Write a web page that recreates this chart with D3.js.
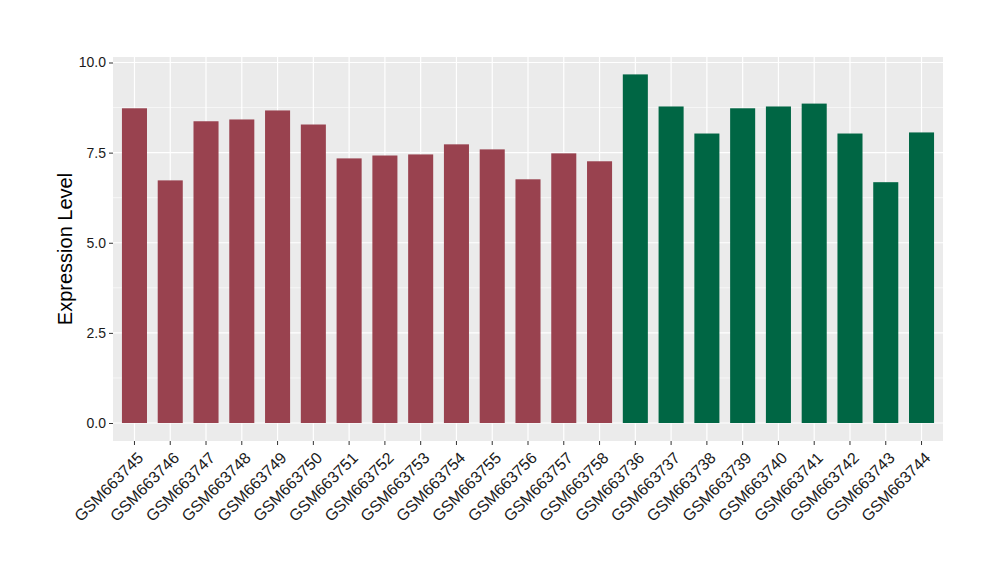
<!DOCTYPE html>
<html><head><meta charset="utf-8">
<script src="https://cdn.jsdelivr.net/npm/d3@7"></script>
<style>body{margin:0;background:#fff}svg{display:block}</style>
</head><body>
<svg id="c" width="1000" height="580"></svg>
<script>
const categories = ["GSM663745","GSM663746","GSM663747","GSM663748","GSM663749","GSM663750","GSM663751","GSM663752","GSM663753","GSM663754","GSM663755","GSM663756","GSM663757","GSM663758","GSM663736","GSM663737","GSM663738","GSM663739","GSM663740","GSM663741","GSM663742","GSM663743","GSM663744"];
const values = [8.73,6.73,8.37,8.42,8.67,8.28,7.34,7.42,7.45,7.73,7.59,6.76,7.48,7.26,9.67,8.78,8.03,8.73,8.78,8.86,8.03,6.68,8.06];
const groups = ["A","A","A","A","A","A","A","A","A","A","A","A","A","A","B","B","B","B","B","B","B","B","B"];
const groupColors = {A:"#99424f", B:"#006644"};
const yTicks = [0,2.5,5,7.5,10];
const yMinor = [1.25,3.75,6.25,8.75];

const svg = d3.select("#c");
const L=113, R=943, T=57, B=441;
const yS = d3.scaleLinear().domain([0,10]).range([423,62.5]);
const x = d3.scaleBand().domain(categories).range([L,R]).paddingInner(0.3).paddingOuter(0.25);

svg.append("rect").attr("x",L).attr("y",T).attr("width",R-L).attr("height",B-T).attr("fill","#ebebeb");
const g = svg.append("g");
g.selectAll(".ymin").data(yMinor).enter().append("line")
 .attr("x1",L).attr("x2",R).attr("y1",d=>yS(d)).attr("y2",d=>yS(d)).attr("stroke","#fff").attr("stroke-width",0.6);
g.selectAll(".ymaj").data(yTicks).enter().append("line")
 .attr("x1",L).attr("x2",R).attr("y1",d=>yS(d)).attr("y2",d=>yS(d)).attr("stroke","#fff").attr("stroke-width",1.2);
g.selectAll(".xmaj").data(categories).enter().append("line")
 .attr("x1",d=>x(d)+x.bandwidth()/2).attr("x2",d=>x(d)+x.bandwidth()/2).attr("y1",T).attr("y2",B).attr("stroke","#fff").attr("stroke-width",1.2);

g.selectAll(".bar").data(categories).enter().append("rect")
 .attr("x",d=>x(d)).attr("width",x.bandwidth())
 .attr("y",(d,i)=>yS(values[i])).attr("height",(d,i)=>yS(0)-yS(values[i]))
 .attr("fill",(d,i)=>groupColors[groups[i]]);

const ya = svg.append("g").attr("transform",`translate(${L},0)`)
 .call(d3.axisLeft(yS).tickValues(yTicks).tickFormat(d3.format(".1f")).tickSize(4).tickPadding(3));
ya.select(".domain").remove();
ya.selectAll("line").attr("stroke","#333");
ya.selectAll("text").attr("fill","#1a1a1a").style("font-family","Liberation Sans, Arial, sans-serif").style("font-size","14px");

const xa = svg.append("g").attr("transform",`translate(0,${B})`)
 .call(d3.axisBottom(x).tickSize(4).tickPadding(3));
xa.select(".domain").remove();
xa.selectAll("line").attr("stroke","#333");
xa.selectAll("text").attr("fill","#1a1a1a").style("font-family","Liberation Sans, Arial, sans-serif").style("font-size","16px")
 .attr("text-anchor","end").attr("dy","0").attr("transform","translate(5,13) rotate(-45)");

svg.append("text").attr("transform","translate(72,249) rotate(-90)").attr("text-anchor","middle")
 .style("font-family","Liberation Sans, Arial, sans-serif").style("font-size","20px").attr("fill","#000")
 .text("Expression Level");
</script>
</body></html>
